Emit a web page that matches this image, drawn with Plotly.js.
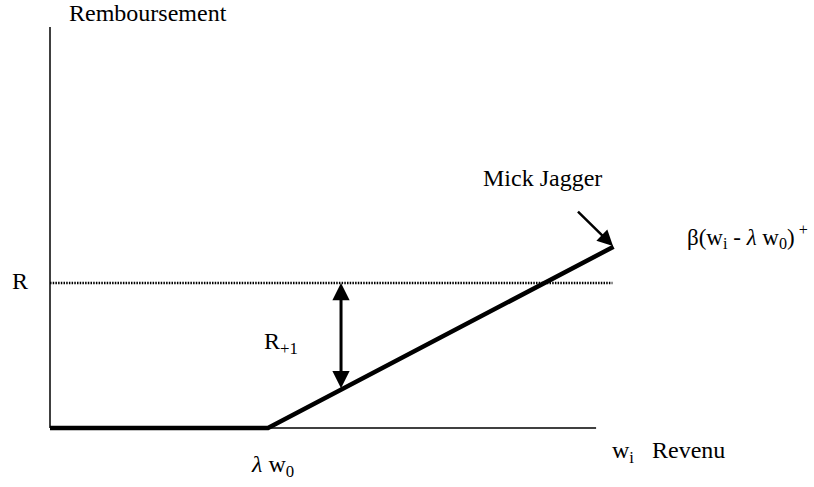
<!DOCTYPE html>
<html>
<head>
<meta charset="utf-8">
<script src="https://cdn.plot.ly/plotly-3.0.1.min.js"></script>
<style>
  html, body { margin: 0; padding: 0; background: #fff; }
  #chart { width: 814px; height: 487px; }
</style>
</head>
<body>
<div id="chart"></div>
<script>
// Courbe de remboursement (revenu, remboursement)
const revenu = [0, 2, 5.17];
const remboursement = [0, 0, 5.0];
const niveauR = 4;          // remboursement fixe R
const finR = 5.16;          // fin de la ligne pointillée
const finAxeX = 5.01;
const hautAxeY = 11.06;
const xFleche = 2.67;       // position de la flèche R+1

// valeur de la courbe au point de la flèche
function surCourbe(x) {
    for (let i = 0; i < revenu.length - 1; i++) {
        if (x >= revenu[i] && x <= revenu[i + 1]) {
            const t = (x - revenu[i]) / (revenu[i + 1] - revenu[i]);
            return remboursement[i] + t * (remboursement[i + 1] - remboursement[i]);
        }
    }
    return 0;
}

const police = { family: 'Liberation Serif, Times New Roman, serif', size: 24, color: '#000' };

const traces = [
    // axes
    { x: [0, 0], y: [hautAxeY, 0], mode: 'lines', line: { color: '#000', width: 1.5 }, hoverinfo: 'skip' },
    { x: [0, finAxeX], y: [0, 0], mode: 'lines', line: { color: '#000', width: 1.5 }, hoverinfo: 'skip' },
    // niveau R
    { x: [0, finR], y: [niveauR, niveauR], mode: 'lines', line: { color: '#000', width: 2.5, dash: '1.5px,1.2px' }, hoverinfo: 'skip' },
    // beta (w_i - lambda w0)+
    { x: revenu, y: remboursement, mode: 'lines', line: { color: '#000', width: 4.5 }, hoverinfo: 'skip' }
];

const annotations = [
    { x: 0.156, y: 11.45, text: 'Remboursement', xanchor: 'left' },
    { x: -0.275, y: niveauR + 0.05, text: 'R' },
    { x: 2.12, y: 2.34, text: 'R<sub>+1</sub>' },
    { x: 4.52, y: 6.9, text: 'Mick Jagger' },
    { x: 5.83, y: 5.27, text: 'β(w<sub>i</sub> - <i>λ</i> w<sub>0</sub>)<sup> +</sup>', xanchor: 'left', font: Object.assign({}, police, { size: 23 }) },
    { x: 5.14, y: -0.66, text: 'w<sub>i</sub>   Revenu', xanchor: 'left' },
    { x: revenu[1] + 0.04, y: -1.05, text: '<i>λ</i> w<sub>0</sub>' }
].map(a => Object.assign({ showarrow: false, font: police }, a));

// flèche double R+1
annotations.push({
    x: xFleche, y: niveauR, ax: xFleche, ay: surCourbe(xFleche),
    xref: 'x', yref: 'y', axref: 'x', ayref: 'y',
    showarrow: true, arrowhead: 2, startarrowhead: 2, arrowside: 'end+start',
    arrowsize: 1.15, startarrowsize: 1.15, arrowwidth: 3, arrowcolor: '#000', text: ''
});
// flèche Mick Jagger
annotations.push({
    x: revenu[2] - 0.005, y: remboursement[2] + 0.02, ax: 4.83, ay: 6.01,
    xref: 'x', yref: 'y', axref: 'x', ayref: 'y',
    showarrow: true, arrowhead: 2, arrowsize: 1.25, arrowwidth: 2.5, arrowcolor: '#000', text: ''
});

const layout = {
    width: 814,
    height: 487,
    margin: { l: 0, r: 0, t: 0, b: 0 },
    showlegend: false,
    paper_bgcolor: '#fff',
    plot_bgcolor: '#fff',
    xaxis: { range: [-50 / 109, 764 / 109], visible: false, fixedrange: true },
    yaxis: { range: [-59 / 36.25, 428 / 36.25], visible: false, fixedrange: true },
    annotations: annotations
};

Plotly.newPlot('chart', traces, layout, { displayModeBar: false, staticPlot: true });
</script>
</body>
</html>
